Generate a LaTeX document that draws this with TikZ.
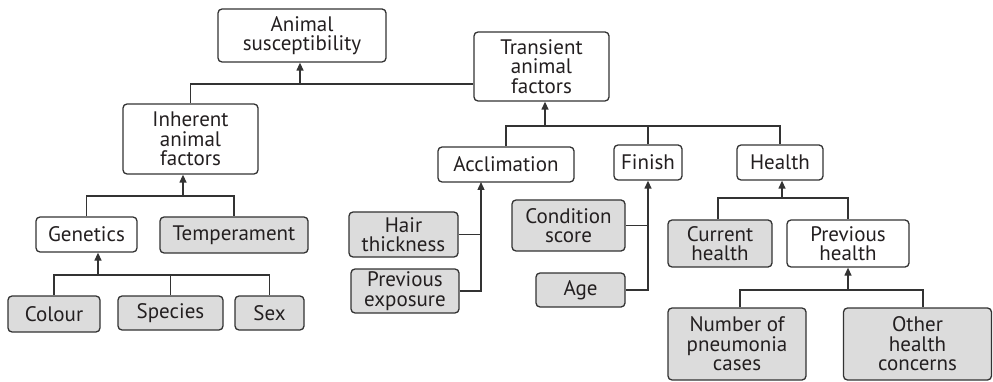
\documentclass[tikz,border=0pt]{standalone}
\usepackage{fontspec}
\setmainfont{PT Sans}
\usetikzlibrary{arrows.meta}
\definecolor{ln}{HTML}{333333}
\definecolor{gf}{HTML}{DCDCDC}
\definecolor{tx}{HTML}{231F20}
\tikzset{
  box/.style={draw=ln, line width=1.3pt, rounded corners=4pt, fill=white, text=tx,
    align=center, inner sep=0pt, font=\fontsize{21}{19.5}\selectfont},
  gbox/.style={box, fill=gf},
  con/.style={draw=ln, line width=1.3pt},
  arr/.style={con, -{Triangle[length=8pt,width=7pt]}}
}
\begin{document}
\begin{tikzpicture}[x=1pt,y=-1pt]
\useasboundingbox (0,0) rectangle (993,382);
% nodes
\node[box, minimum width=168pt, minimum height=53pt] (as) at (302,35.5) {Animal\\susceptibility};
\node[box, minimum width=135pt, minimum height=69pt] (tr) at (541.5,66.5) {Transient\\animal\\factors};
\node[box, minimum width=135pt, minimum height=70pt] (inh) at (190.5,139) {Inherent\\animal\\factors};
\node[box, minimum width=101pt, minimum height=35pt] (gen) at (86.5,234.5) {Genetics};
\node[gbox, minimum width=148pt, minimum height=36pt] (tem) at (234,235) {Temperament};
\node[gbox, minimum width=92pt, minimum height=36pt] (col) at (54,314) {Colour};
\node[gbox, minimum width=105pt, minimum height=34pt] (spe) at (170.5,313) {Species};
\node[gbox, minimum width=69pt, minimum height=34pt] (sex) at (269.5,313) {Sex};
\node[box, minimum width=136pt, minimum height=35pt] (acc) at (506,164.5) {Acclimation};
\node[box, minimum width=68pt, minimum height=35pt] (fin) at (648,162.5) {Finish};
\node[box, minimum width=86pt, minimum height=35pt] (hea) at (780,162.5) {Health};
\node[gbox, minimum width=109pt, minimum height=45pt] (hair) at (403.5,234.5) {Hair\\thickness};
\node[gbox, minimum width=108pt, minimum height=44pt] (pexp) at (405,291) {Previous\\exposure};
\node[gbox, minimum width=113pt, minimum height=51pt] (cond) at (568.5,225.5) {Condition\\score};
\node[gbox, minimum width=89pt, minimum height=34pt] (age) at (580.5,290) {Age};
\node[gbox, minimum width=104pt, minimum height=47pt] (cur) at (720,243.5) {Current\\health};
\node[box, minimum width=122pt, minimum height=47pt] (prh) at (848,243.5) {Previous\\health};
\node[gbox, minimum width=138pt, minimum height=72pt] (num) at (737,344) {Number of\\pneumonia\\cases};
\node[gbox, minimum width=148pt, minimum height=72pt] (oth) at (917.5,344) {Other\\health\\concerns};
% junction coordinates
\coordinate (b1) at (300,84);
\coordinate (b2) at (183,196);
\coordinate (b3) at (98,275);
\coordinate (b4) at (545,126);
\coordinate (va) at (481,182);
\coordinate (b5) at (782,198);
\coordinate (b6) at (848,290);
% connectors
\draw[con] (inh.north) |- (tr.west |- b1);
\draw[arr] (b1) -- (as.south -| b1);
\draw[con] (gen.north) |- (tem.north |- b2) -- (tem.north);
\draw[arr] (b2) -- (inh.south -| b2);
\draw[con] (col.north) |- (sex.north |- b3) -- (sex.north);
\draw[con] (spe.north) -- (spe.north |- b3);
\draw[arr] (b3) -- (gen.south -| b3);
\draw[con] (acc.north) |- (hea.north |- b4) -- (hea.north);
\draw[con] (fin.north) -- (fin.north |- b4);
\draw[arr] (b4) -- (tr.south -| b4);
\draw[arr] (pexp.east) -| (va);
\draw[con] (hair.east) -- (hair.east -| va);
\draw[arr] (age.east) -| (fin.south);
\draw[con] (cond.east) -- (cond.east -| fin.south);
\draw[con] ([xshift=-2pt]cur.north) |- (prh.north |- b5) -- (prh.north);
\draw[arr] (b5) -- (hea.south -| b5);
\draw[con] ([xshift=3pt]num.north) |- ([xshift=5.5pt]oth.north |- b6) -- ([xshift=5.5pt]oth.north);
\draw[arr] (b6) -- (prh.south -| b6);
\end{tikzpicture}
\end{document}
